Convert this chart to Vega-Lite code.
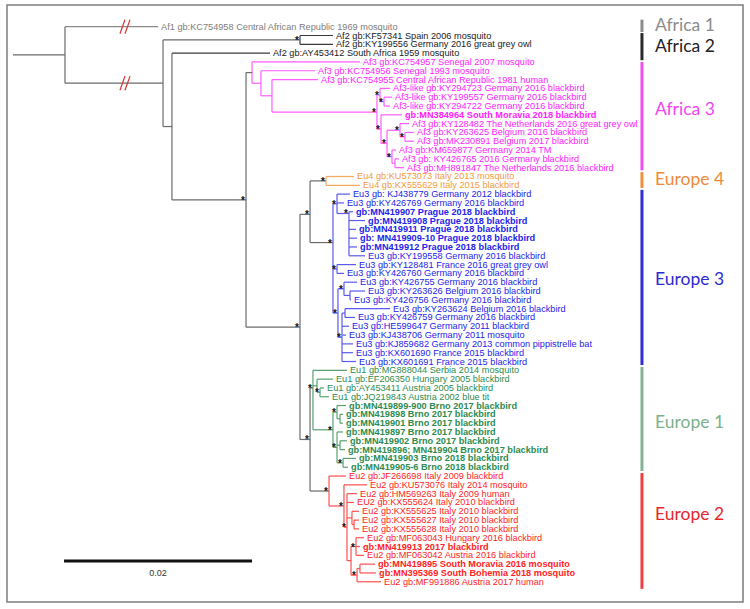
{
  "$schema": "https://vega.github.io/schema/vega-lite/v6.json",
  "width": 750,
  "height": 609,
  "padding": 0,
  "autosize": {"type": "none"},
  "background": "white",
  "config": {"view": {"stroke": null}},
  "datasets": {
    "nodes": [
      {"n":"root","x":5.53,"y1":1,"y2":7.41,"py":4.2,"px":0,"branch":"bb","clade":"bb","star":false},
      {"n":"A","x":15.96,"y1":2.5,"y2":12.33,"py":7.41,"px":5.53,"branch":"bb","clade":"bb","star":false},
      {"n":"Af2a","x":30.53,"y1":2,"y2":3,"py":2.5,"px":15.96,"branch":"bb","clade":"af2","star":true},
      {"n":"B","x":16.91,"y1":4,"y2":20.66,"py":12.33,"px":15.96,"branch":"bb","clade":"bb","star":false},
      {"n":"C","x":24.79,"y1":6.21,"y2":35.1,"py":20.66,"px":16.91,"branch":"bb","clade":"bb","star":true},
      {"n":"Af3","x":25.43,"y1":5,"y2":7.42,"py":6.21,"px":24.79,"branch":"bb","clade":"af3","star":false},
      {"n":"N2","x":26.38,"y1":6,"y2":8.84,"py":7.42,"px":25.43,"branch":"af3","clade":"af3","star":false},
      {"n":"N3","x":27.55,"y1":7,"y2":10.69,"py":8.84,"px":26.38,"branch":"af3","clade":"af3","star":false},
      {"n":"N4","x":38.72,"y1":8.75,"y2":12.625,"py":10.69,"px":27.55,"branch":"af3","clade":"af3","star":true},
      {"n":"L1","x":39.04,"y1":8,"y2":9.5,"py":8.75,"px":38.72,"branch":"af3","clade":"af3","star":true},
      {"n":"L2","x":39.47,"y1":9,"y2":10,"py":9.5,"px":39.04,"branch":"af3","clade":"af3","star":true},
      {"n":"N5","x":39.15,"y1":11,"y2":14.25,"py":12.625,"px":38.72,"branch":"af3","clade":"af3","star":true},
      {"n":"N6","x":39.79,"y1":12.75,"y2":15.75,"py":14.25,"px":39.15,"branch":"af3","clade":"af3","star":true},
      {"n":"N7","x":41.17,"y1":12,"y2":13.5,"py":12.75,"px":39.79,"branch":"af3","clade":"af3","star":true},
      {"n":"N7b","x":41.7,"y1":13,"y2":14,"py":13.5,"px":41.17,"branch":"af3","clade":"af3","star":true},
      {"n":"N8","x":40.32,"y1":15,"y2":16.5,"py":15.75,"px":39.79,"branch":"af3","clade":"af3","star":true},
      {"n":"N9","x":40.64,"y1":16,"y2":17,"py":16.5,"px":40.32,"branch":"af3","clade":"af3","star":false},
      {"n":"D","x":30.53,"y1":22.3,"y2":47.85,"py":35.1,"px":24.79,"branch":"bb","clade":"bb","star":true},
      {"n":"E","x":31.6,"y1":18.5,"y2":25.5,"py":22.3,"px":30.53,"branch":"bb","clade":"bb","star":true},
      {"n":"Eu4","x":33.3,"y1":18,"y2":19,"py":18.5,"px":31.6,"branch":"bb","clade":"eu4","star":true},
      {"n":"G","x":34.04,"y1":21.1,"y2":33.5,"py":25.5,"px":31.6,"branch":"bb","clade":"eu3","star":true},
      {"n":"H","x":34.47,"y1":20,"y2":22.2,"py":21.1,"px":34.04,"branch":"eu3","clade":"eu3","star":true},
      {"n":"I","x":35.74,"y1":22,"y2":27,"py":22.2,"px":34.47,"branch":"eu3","clade":"eu3","star":true},
      {"n":"J","x":34.47,"y1":28,"y2":29,"py":28.5,"px":34.04,"branch":"eu3","clade":"eu3","star":true},
      {"n":"M","x":34.57,"y1":30.75,"y2":36.25,"py":33.5,"px":34.04,"branch":"eu3","clade":"eu3","star":true},
      {"n":"K","x":35.21,"y1":30,"y2":31.5,"py":30.75,"px":34.57,"branch":"eu3","clade":"eu3","star":true},
      {"n":"K2","x":35.85,"y1":31,"y2":32,"py":31.5,"px":35.21,"branch":"eu3","clade":"eu3","star":false},
      {"n":"L","x":35.0,"y1":33.5,"y2":39,"py":36.25,"px":34.57,"branch":"eu3","clade":"eu3","star":true},
      {"n":"Lb","x":35.32,"y1":33,"y2":34,"py":33.5,"px":35.0,"branch":"eu3","clade":"eu3","star":false},
      {"n":"F","x":31.6,"y1":42,"y2":53.7,"py":47.85,"px":30.53,"branch":"bb","clade":"bb","star":true},
      {"n":"P","x":31.91,"y1":40,"y2":46.75,"py":42,"px":31.6,"branch":"bb","clade":"eu1","star":true},
      {"n":"Q","x":32.34,"y1":41,"y2":42.5,"py":41.75,"px":31.91,"branch":"eu1","clade":"eu1","star":false},
      {"n":"R","x":32.66,"y1":42,"y2":43,"py":42.5,"px":32.34,"branch":"eu1","clade":"eu1","star":true},
      {"n":"S","x":34.04,"y1":44.75,"y2":48.75,"py":46.75,"px":31.91,"branch":"eu1","clade":"eu1","star":true},
      {"n":"S1","x":34.47,"y1":44,"y2":45.5,"py":44.75,"px":34.04,"branch":"eu1","clade":"eu1","star":true},
      {"n":"S1b","x":34.79,"y1":45,"y2":46,"py":45.5,"px":34.47,"branch":"eu1","clade":"eu1","star":false},
      {"n":"S2","x":34.47,"y1":47,"y2":50.5,"py":48.75,"px":34.04,"branch":"eu1","clade":"eu1","star":true},
      {"n":"S2b","x":34.79,"y1":48,"y2":49,"py":48.5,"px":34.47,"branch":"eu1","clade":"eu1","star":false},
      {"n":"S2c","x":35.11,"y1":50,"y2":51,"py":50.5,"px":34.47,"branch":"eu1","clade":"eu1","star":true},
      {"n":"T","x":33.62,"y1":52,"y2":55.4,"py":53.7,"px":31.6,"branch":"bb","clade":"eu2","star":true},
      {"n":"U","x":35.21,"y1":53,"y2":57.8,"py":55.4,"px":33.62,"branch":"eu2","clade":"eu2","star":true},
      {"n":"V","x":35.53,"y1":54,"y2":61.6,"py":57.8,"px":35.21,"branch":"eu2","clade":"eu2","star":true},
      {"n":"W","x":36.06,"y1":56,"y2":57.5,"py":56.75,"px":35.53,"branch":"eu2","clade":"eu2","star":false},
      {"n":"W2","x":36.28,"y1":57,"y2":58,"py":57.5,"px":36.06,"branch":"eu2","clade":"eu2","star":false},
      {"n":"X","x":35.96,"y1":60,"y2":63.25,"py":61.6,"px":35.53,"branch":"eu2","clade":"eu2","star":false},
      {"n":"X1","x":36.49,"y1":59,"y2":61,"py":60,"px":35.96,"branch":"eu2","clade":"eu2","star":true},
      {"n":"Y","x":36.6,"y1":62.5,"y2":64,"py":63.25,"px":35.96,"branch":"eu2","clade":"eu2","star":true},
      {"n":"Y1","x":36.91,"y1":62,"y2":63,"py":62.5,"px":36.6,"branch":"eu2","clade":"eu2","star":false}
    ],
    "tips": [
      {"i":1,"s":5.53,"e":15.43,"label":"Af1 gb:KC754958 Central African Republic 1969 mosquito","clade":"af1","bold":false},
      {"i":2,"s":30.53,"e":34.04,"label":"Af2 gb:KF57341 Spain 2006 mosquito","clade":"af2","bold":false},
      {"i":3,"s":30.53,"e":34.04,"label":"Af2 gb:KY199556 Germany 2016 great grey owl","clade":"af2","bold":false},
      {"i":4,"s":16.91,"e":27.34,"label":"Af2 gb:AY453412 South Africa 1959 mosquito","clade":"af2","bold":false},
      {"i":5,"s":25.43,"e":36.91,"label":"Af3 gb:KC754957 Senegal 2007 mosquito","clade":"af3","bold":false},
      {"i":6,"s":26.38,"e":32.13,"label":"Af3 gb:KC754956 Senegal 1993 mosquito","clade":"af3","bold":false},
      {"i":7,"s":27.55,"e":32.45,"label":"Af3 gb:KC754955 Central African Republic 1981 human","clade":"af3","bold":false},
      {"i":8,"s":39.04,"e":40.11,"label":"Af3-like gb:KY294723 Germany 2016 blackbird","clade":"af3","bold":false},
      {"i":9,"s":39.47,"e":40.32,"label":"Af3-like gb:KY199557 Germany 2016 blackbird","clade":"af3","bold":false},
      {"i":10,"s":39.47,"e":40.11,"label":"Af3-like gb:KY294722 Germany 2016 blackbird","clade":"af3","bold":false},
      {"i":11,"s":39.15,"e":41.38,"label":"gb:MN384964 South Moravia 2018 blackbird","clade":"af3","bold":true},
      {"i":12,"s":41.17,"e":42.13,"label":"Af3 gb:KY128482 The Netherlands 2016 great grey owl","clade":"af3","bold":false},
      {"i":13,"s":41.7,"e":42.66,"label":"Af3 gb:KY263625 Belgium 2016 blackbird","clade":"af3","bold":false},
      {"i":14,"s":41.7,"e":42.66,"label":"Af3 gb:MK230891 Belgium 2017 blackbird","clade":"af3","bold":false},
      {"i":15,"s":40.32,"e":40.74,"label":"Af3 gb:KM659877 Germany 2014 TM","clade":"af3","bold":false},
      {"i":16,"s":40.64,"e":41.06,"label":"Af3 gb: KY426765 2016 Germany blackbird","clade":"af3","bold":false},
      {"i":17,"s":40.64,"e":41.6,"label":"Af3 gb:MH891847 The Netherlands 2016 blackbird","clade":"af3","bold":false},
      {"i":18,"s":33.3,"e":36.28,"label":"Eu4 gb:KU573073 Italy 2013 mosquito","clade":"eu4","bold":false},
      {"i":19,"s":33.3,"e":36.91,"label":"Eu4 gb:KX555629 Italy 2015 blackbird","clade":"eu4","bold":false},
      {"i":20,"s":34.47,"e":35.85,"label":"Eu3 gb: KJ438779 Germany 2012 blackbird","clade":"eu3","bold":false},
      {"i":21,"s":34.47,"e":35.21,"label":"Eu3 gb:KY426769 Germany 2016 blackbird","clade":"eu3","bold":false},
      {"i":22,"s":35.74,"e":36.17,"label":"gb:MN419907 Prague 2018 blackbird","clade":"eu3","bold":true},
      {"i":23,"s":35.74,"e":37.45,"label":"gb:MN419908 Prague 2018 blackbird","clade":"eu3","bold":true},
      {"i":24,"s":35.74,"e":36.49,"label":"gb:MN419911 Prague 2018 blackbird","clade":"eu3","bold":true},
      {"i":25,"s":35.74,"e":36.6,"label":"gb: MN419909-10 Prague 2018 blackbird","clade":"eu3","bold":true},
      {"i":26,"s":35.74,"e":36.6,"label":"gb:MN419912 Prague 2018 blackbird","clade":"eu3","bold":true},
      {"i":27,"s":35.74,"e":37.45,"label":"Eu3 gb:KY199558 Germany 2016 blackbird","clade":"eu3","bold":false},
      {"i":28,"s":34.47,"e":36.49,"label":"Eu3 gb:KY128481 France 2016 great grey owl","clade":"eu3","bold":false},
      {"i":29,"s":34.47,"e":35.21,"label":"Eu3 gb:KY426760 Germany 2016 blackbird","clade":"eu3","bold":false},
      {"i":30,"s":35.21,"e":36.6,"label":"Eu3 gb:KY426755 Germany 2016 blackbird","clade":"eu3","bold":false},
      {"i":31,"s":35.85,"e":37.45,"label":"Eu3 gb:KY263626 Belgium 2016 blackbird","clade":"eu3","bold":false},
      {"i":32,"s":35.85,"e":35.96,"label":"Eu3 gb:KY426756 Germany 2016 blackbird","clade":"eu3","bold":false},
      {"i":33,"s":35.32,"e":40.11,"label":"Eu3 gb:KY263624 Belgium 2016 blackbird","clade":"eu3","bold":false},
      {"i":34,"s":35.32,"e":36.38,"label":"Eu3 gb:KY426759 Germany 2016 blackbird","clade":"eu3","bold":false},
      {"i":35,"s":35.0,"e":35.74,"label":"Eu3 gb:HE599647 Germany 2011 blackbird","clade":"eu3","bold":false},
      {"i":36,"s":35.0,"e":35.43,"label":"Eu3 gb:KJ438706 Germany 2011 mosquito","clade":"eu3","bold":false},
      {"i":37,"s":35.0,"e":36.17,"label":"Eu3 gb:KJ859682 Germany 2013 common pippistrelle bat","clade":"eu3","bold":false},
      {"i":38,"s":35.0,"e":36.17,"label":"Eu3 gb:KX601690 France 2015 blackbird","clade":"eu3","bold":false},
      {"i":39,"s":35.0,"e":36.49,"label":"Eu3 gb:KX601691 France 2015 blackbird","clade":"eu3","bold":false},
      {"i":40,"s":31.91,"e":35.53,"label":"Eu1 gb:MG888044 Serbia 2014 mosquito","clade":"eu1","bold":false},
      {"i":41,"s":32.34,"e":34.04,"label":"Eu1 gb:EF206350 Hungary 2005 blackbird","clade":"eu1","bold":false},
      {"i":42,"s":32.66,"e":33.09,"label":"Eu1 gb:AY453411 Austria 2005 blackbird","clade":"eu1","bold":false},
      {"i":43,"s":32.66,"e":33.62,"label":"Eu1 gb:JQ219843 Austria 2002 blue tit","clade":"eu1","bold":false},
      {"i":44,"s":34.47,"e":35.43,"label":"gb:MN419899-900 Brno 2017 blackbird","clade":"eu1","bold":true},
      {"i":45,"s":34.79,"e":35.11,"label":"gb:MN419898 Brno 2017 blackbird","clade":"eu1","bold":true},
      {"i":46,"s":34.79,"e":35.11,"label":"gb:MN419901 Brno 2017 blackbird","clade":"eu1","bold":true},
      {"i":47,"s":34.47,"e":35.11,"label":"gb:MN419897 Brno 2017 blackbird","clade":"eu1","bold":true},
      {"i":48,"s":34.79,"e":35.53,"label":"gb:MN419902 Brno 2017 blackbird","clade":"eu1","bold":true},
      {"i":49,"s":34.79,"e":35.32,"label":"gb:MN419896; MN419904 Brno 2017 blackbird","clade":"eu1","bold":true},
      {"i":50,"s":35.11,"e":36.49,"label":"gb:MN419903 Brno 2018 blackbird","clade":"eu1","bold":true},
      {"i":51,"s":35.11,"e":35.64,"label":"gb:MN419905-6 Brno 2018 blackbird","clade":"eu1","bold":true},
      {"i":52,"s":33.62,"e":35.43,"label":"Eu2 gb:JF266698 Italy 2009 blackbird","clade":"eu2","bold":false},
      {"i":53,"s":35.21,"e":37.66,"label":"Eu2 gb:KU573076 Italy 2014 mosquito","clade":"eu2","bold":false},
      {"i":54,"s":35.53,"e":36.6,"label":"Eu2 gb:HM569263 Italy 2009 human","clade":"eu2","bold":false},
      {"i":55,"s":35.53,"e":36.28,"label":"EU2 gb:KX555624 Italy 2010 blackbird","clade":"eu2","bold":false},
      {"i":56,"s":36.06,"e":36.81,"label":"Eu2 gb:KX555625 Italy 2010 blackbird","clade":"eu2","bold":false},
      {"i":57,"s":36.28,"e":36.81,"label":"Eu2 gb:KX555627 Italy 2010 blackbird","clade":"eu2","bold":false},
      {"i":58,"s":36.28,"e":36.81,"label":"Eu2 gb:KX555628 Italy 2010 blackbird","clade":"eu2","bold":false},
      {"i":59,"s":36.49,"e":37.34,"label":"Eu2 gb:MF063043 Hungary 2016 blackbird","clade":"eu2","bold":false},
      {"i":60,"s":36.49,"e":36.91,"label":"gb:MN419913 2017 blackbird","clade":"eu2","bold":true},
      {"i":61,"s":36.49,"e":37.34,"label":"Eu2 gb:MF063042 Austria 2016 blackbird","clade":"eu2","bold":false},
      {"i":62,"s":36.91,"e":38.51,"label":"gb:MN419895 South Moravia 2016 mosquito","clade":"eu2","bold":true},
      {"i":63,"s":36.91,"e":38.62,"label":"gb:MN395369 South Bohemia 2018 mosquito","clade":"eu2","bold":true},
      {"i":64,"s":36.6,"e":39.15,"label":"Eu2 gb:MF991886 Austria 2017 human","clade":"eu2","bold":false}
    ],
    "clades": [
      {"name":"Africa 1","lo":0.2,"hi":1.6,"mid":0.93,"k":"af1"},
      {"name":"Africa 2","lo":1.72,"hi":4.8,"mid":3.28,"k":"af2"},
      {"name":"Africa 3","lo":5.0,"hi":17.3,"mid":10.46,"k":"af3"},
      {"name":"Europe 4","lo":17.5,"hi":19.3,"mid":18.4,"k":"eu4"},
      {"name":"Europe 3","lo":19.52,"hi":39.4,"mid":29.76,"k":"eu3"},
      {"name":"Europe 1","lo":39.62,"hi":51.43,"mid":46.0,"k":"eu1"},
      {"name":"Europe 2","lo":51.66,"hi":64.8,"mid":56.4,"k":"eu2"}
    ],
    "breaks": [
      {"x":11.38,"y":1.8,"x2":11.91,"y2":0.2},
      {"x":11.91,"y":1.8,"x2":12.45,"y2":0.2},
      {"x":11.38,"y":8.21,"x2":11.91,"y2":6.61},
      {"x":11.91,"y":8.21,"x2":12.45,"y2":6.61}
    ],
    "scalebar": [
      {"from":5.43,"to":25.43,"y":61.65,"label":"0.02","lx":15.43,"ly":62.95}
    ],
    "frame": [
      {"x":-0.64,"x2":77.66,"y":-1.46,"y2":66.3}
    ]
  },
  "resolve": {"scale": {"color": "independent"}},
  "layer": [
    {
      "data": {"name": "frame"},
      "mark": {"type": "rect", "filled": false, "stroke": "#7d7d7d", "strokeWidth": 1.5},
      "encoding": {
        "x": {"field": "x", "type": "quantitative", "scale": {"domain": [-1.383, 78.404], "nice": false, "zero": false}, "axis": null},
        "x2": {"field": "x2"},
        "y": {"field": "y", "type": "quantitative", "scale": {"domain": [-2.031, 67.09], "nice": false, "zero": false, "reverse": true}, "axis": null},
        "y2": {"field": "y2"}
      }
    },
    {
      "data": {"name": "nodes"},
      "mark": {"type": "rule", "strokeWidth": 1.2},
      "encoding": {
        "x": {"field": "x", "type": "quantitative", "scale": {"domain": [-1.383, 78.404], "nice": false, "zero": false}, "axis": null},
        "y": {"field": "y1", "type": "quantitative", "scale": {"domain": [-2.031, 67.09], "nice": false, "zero": false, "reverse": true}, "axis": null},
        "y2": {"field": "y2"},
        "color": {"field": "clade", "type": "nominal", "legend": null,
          "scale": {"domain": ["bb","af1","af2","af3","eu4","eu3","eu1","eu2"], "range": ["#6b6b6b","#8a8a8a","#3a3a3a","#ff5cff","#f5aa60","#5a5af0","#5aa070","#ff5050"]}}
      }
    },
    {
      "data": {"name": "nodes"},
      "mark": {"type": "rule", "strokeWidth": 1.2},
      "encoding": {
        "x": {"field": "px", "type": "quantitative", "scale": {"domain": [-1.383, 78.404], "nice": false, "zero": false}, "axis": null},
        "x2": {"field": "x"},
        "y": {"field": "py", "type": "quantitative", "scale": {"domain": [-2.031, 67.09], "nice": false, "zero": false, "reverse": true}, "axis": null},
        "color": {"field": "branch", "type": "nominal", "legend": null,
          "scale": {"domain": ["bb","af1","af2","af3","eu4","eu3","eu1","eu2"], "range": ["#6b6b6b","#8a8a8a","#3a3a3a","#ff5cff","#f5aa60","#5a5af0","#5aa070","#ff5050"]}}
      }
    },
    {
      "data": {"name": "tips"},
      "mark": {"type": "rule", "strokeWidth": 1.2},
      "encoding": {
        "x": {"field": "s", "type": "quantitative", "scale": {"domain": [-1.383, 78.404], "nice": false, "zero": false}, "axis": null},
        "x2": {"field": "e"},
        "y": {"field": "i", "type": "quantitative", "scale": {"domain": [-2.031, 67.09], "nice": false, "zero": false, "reverse": true}, "axis": null},
        "color": {"field": "clade", "type": "nominal", "legend": null,
          "scale": {"domain": ["bb","af1","af2","af3","eu4","eu3","eu1","eu2"], "range": ["#6b6b6b","#8a8a8a","#3a3a3a","#ff5cff","#f5aa60","#5a5af0","#5aa070","#ff5050"]}}
      }
    },
    {
      "data": {"name": "breaks"},
      "mark": {"type": "rule", "strokeWidth": 1.2, "color": "#d6302c"},
      "encoding": {
        "x": {"field": "x", "type": "quantitative", "scale": {"domain": [-1.383, 78.404], "nice": false, "zero": false}, "axis": null},
        "x2": {"field": "x2"},
        "y": {"field": "y", "type": "quantitative", "scale": {"domain": [-2.031, 67.09], "nice": false, "zero": false, "reverse": true}, "axis": null},
        "y2": {"field": "y2"}
      }
    },
    {
      "data": {"name": "tips"},
      "transform": [{"filter": "!datum.bold"}],
      "mark": {"type": "text", "align": "left", "baseline": "middle", "dx": 3, "font": "Liberation Sans, Arial, sans-serif", "fontSize": 9.2},
      "encoding": {
        "x": {"field": "e", "type": "quantitative", "scale": {"domain": [-1.383, 78.404], "nice": false, "zero": false}, "axis": null},
        "y": {"field": "i", "type": "quantitative", "scale": {"domain": [-2.031, 67.09], "nice": false, "zero": false, "reverse": true}, "axis": null},
        "text": {"field": "label"},
        "color": {"field": "clade", "type": "nominal", "legend": null,
          "scale": {"domain": ["bb","af1","af2","af3","eu4","eu3","eu1","eu2"], "range": ["#6b6b6b","#7d7d7d","#1a1a1a","#ff22ff","#f29b3c","#2424e8","#2e8b50","#ff2424"]}}
      }
    },
    {
      "data": {"name": "tips"},
      "transform": [{"filter": "datum.bold"}],
      "mark": {"type": "text", "align": "left", "baseline": "middle", "dx": 3, "font": "Liberation Sans, Arial, sans-serif", "fontSize": 9.2, "fontWeight": "bold"},
      "encoding": {
        "x": {"field": "e", "type": "quantitative", "scale": {"domain": [-1.383, 78.404], "nice": false, "zero": false}, "axis": null},
        "y": {"field": "i", "type": "quantitative", "scale": {"domain": [-2.031, 67.09], "nice": false, "zero": false, "reverse": true}, "axis": null},
        "text": {"field": "label"},
        "color": {"field": "clade", "type": "nominal", "legend": null,
          "scale": {"domain": ["bb","af1","af2","af3","eu4","eu3","eu1","eu2"], "range": ["#6b6b6b","#7d7d7d","#1a1a1a","#ff22ff","#f29b3c","#2424e8","#2e8b50","#ff2424"]}}
      }
    },
    {
      "data": {"name": "nodes"},
      "transform": [{"filter": "datum.star"}],
      "mark": {"type": "text", "text": "*", "align": "center", "baseline": "middle", "dx": -3, "dy": 1, "font": "Liberation Sans, Arial, sans-serif", "fontSize": 10, "fontWeight": "bold", "color": "#111111"},
      "encoding": {
        "x": {"field": "x", "type": "quantitative", "scale": {"domain": [-1.383, 78.404], "nice": false, "zero": false}, "axis": null},
        "y": {"field": "py", "type": "quantitative", "scale": {"domain": [-2.031, 67.09], "nice": false, "zero": false, "reverse": true}, "axis": null}
      }
    },
    {
      "data": {"name": "clades"},
      "mark": {"type": "rule", "strokeWidth": 3},
      "encoding": {
        "x": {"datum": 66.91, "type": "quantitative", "scale": {"domain": [-1.383, 78.404], "nice": false, "zero": false}, "axis": null},
        "y": {"field": "lo", "type": "quantitative", "scale": {"domain": [-2.031, 67.09], "nice": false, "zero": false, "reverse": true}, "axis": null},
        "y2": {"field": "hi"},
        "color": {"field": "k", "type": "nominal", "legend": null,
          "scale": {"domain": ["af1","af2","af3","eu4","eu3","eu1","eu2"], "range": ["#8c8c8c","#2a2a2a","#f04cf0","#f0903e","#2f2fd2","#82b392","#ee4040"]}}
      }
    },
    {
      "data": {"name": "clades"},
      "mark": {"type": "text", "align": "left", "baseline": "middle", "font": "Lato, Open Sans, sans-serif", "fontSize": 17.5},
      "encoding": {
        "x": {"datum": 68.3, "type": "quantitative", "scale": {"domain": [-1.383, 78.404], "nice": false, "zero": false}, "axis": null},
        "y": {"field": "mid", "type": "quantitative", "scale": {"domain": [-2.031, 67.09], "nice": false, "zero": false, "reverse": true}, "axis": null},
        "text": {"field": "name"},
        "color": {"field": "k", "type": "nominal", "legend": null,
          "scale": {"domain": ["af1","af2","af3","eu4","eu3","eu1","eu2"], "range": ["#8c8c8c","#222222","#f046f0","#ee8a3a","#2b2bd0","#7cb08c","#e8262a"]}}
      }
    },
    {
      "data": {"name": "scalebar"},
      "mark": {"type": "rule", "strokeWidth": 3, "color": "#111111"},
      "encoding": {
        "x": {"field": "from", "type": "quantitative", "scale": {"domain": [-1.383, 78.404], "nice": false, "zero": false}, "axis": null},
        "x2": {"field": "to"},
        "y": {"field": "y", "type": "quantitative", "scale": {"domain": [-2.031, 67.09], "nice": false, "zero": false, "reverse": true}, "axis": null}
      }
    },
    {
      "data": {"name": "scalebar"},
      "mark": {"type": "text", "align": "center", "baseline": "middle", "font": "Liberation Sans, Arial, sans-serif", "fontSize": 9, "color": "#333333"},
      "encoding": {
        "x": {"field": "lx", "type": "quantitative", "scale": {"domain": [-1.383, 78.404], "nice": false, "zero": false}, "axis": null},
        "y": {"field": "ly", "type": "quantitative", "scale": {"domain": [-2.031, 67.09], "nice": false, "zero": false, "reverse": true}, "axis": null},
        "text": {"field": "label"}
      }
    }
  ]
}
